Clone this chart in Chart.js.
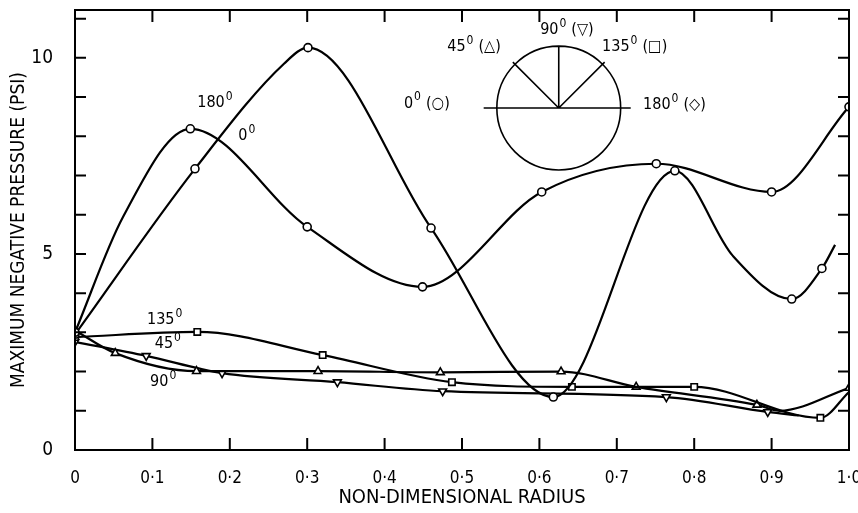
<!DOCTYPE html>
<html>
<head>
<meta charset="utf-8">
<script src="https://cdn.jsdelivr.net/npm/chart.js@4/dist/chart.umd.min.js"></script>
<style>
  body { margin: 0; background: #fff; }
  canvas { display: block; }
</style>
</head>
<body>
<canvas id="mycanvas" width="858" height="513"></canvas>
<script>
// values: radius (x) and max negative pressure in psi (y)
// the m* arrays say which points carry a marker (0 = point read along the curve only)
var xLabels = ['0', '0·1', '0·2', '0·3', '0·4', '0·5', '0·6', '0·7', '0·8', '0·9', '1·0'];
var yLabelValues = [0, 5, 10];

var r180 = [0, 0.062, 0.149, 0.30, 0.449, 0.603, 0.751, 0.90, 1.0];
var p180 = [3.0, 5.94, 8.19, 5.69, 4.16, 6.58, 7.30, 6.58, 8.75];
var m180 = [1, 0, 1, 1, 1, 1, 1, 1, 1];

var r0 = [0, 0.155, 0.27, 0.301, 0.46, 0.618, 0.775, 0.85, 0.926, 0.965, 0.982];
var p0 = [2.95, 7.17, 9.85, 10.26, 5.66, 1.35, 7.12, 4.95, 3.85, 4.63, 5.23];
var m0 = [1, 1, 0, 1, 1, 1, 1, 0, 1, 1, 0];

var r135 = [0, 0.158, 0.32, 0.487, 0.642, 0.80, 0.963, 1.0];
var p135 = [2.88, 3.01, 2.42, 1.73, 1.61, 1.61, 0.82, 1.48];
var m135 = [1, 1, 1, 1, 1, 1, 1, 0];

var r45 = [0, 0.052, 0.157, 0.314, 0.472, 0.628, 0.725, 0.881, 0.91, 1.0];
var p45 = [3.05, 2.47, 2.01, 2.01, 1.98, 2.0, 1.61, 1.15, 1.0, 1.58];
var m45 = [1, 1, 1, 1, 1, 1, 1, 1, 0, 1];

var r90 = [0, 0.092, 0.19, 0.339, 0.475, 0.764, 0.895, 0.935];
var p90 = [2.76, 2.40, 1.96, 1.73, 1.50, 1.35, 0.97, 0.88];
var m90 = [1, 1, 1, 1, 1, 1, 1, 0];

var FONT = "'Liberation Sans Narrow', 'DejaVu Sans Condensed', 'Arial Narrow', sans-serif";

function pts(xs, ys) {
	var out = [];
	for (var i = 0; i < xs.length; i++) out.push({x: xs[i], y: ys[i]});
	return out;
}
function radii(flags, r) {
	return flags.map(function(f){ return f ? r : 0; });
}
function series(label, xs, ys, flags, style, r, rot) {
	return {
		label: label,
		data: pts(xs, ys),
		borderColor: '#000',
		borderWidth: 2.2,
		backgroundColor: '#fff',
		pointBackgroundColor: '#fff',
		pointBorderColor: '#000',
		pointBorderWidth: 1.6,
		pointStyle: style,
		pointRotation: rot || 0,
		pointRadius: radii(flags, r),
		cubicInterpolationMode: 'monotone',
		fill: false
	};
}

// text with a raised small "0" used as the degree sign
function degText(ctx, x, y, base, rest, size) {
	ctx.font = size + 'px ' + FONT;
	ctx.textBaseline = 'middle';
	ctx.textAlign = 'left';
	ctx.fillText(base, x, y);
	var w = ctx.measureText(base).width;
	ctx.font = Math.round(size * 0.75) + 'px ' + FONT;
	ctx.fillText('0', x + w + 1, y - size * 0.4);
	var w2 = ctx.measureText('0').width;
	if (rest) {
		ctx.font = size + 'px ' + FONT;
		ctx.fillText(rest, x + w + w2 + 6, y);
	}
}

var curveLabels = [
	{t: '180', x: 0.158, y: 8.85},
	{t: '0', x: 0.211, y: 8.01},
	{t: '135', x: 0.093, y: 3.32},
	{t: '45', x: 0.103, y: 2.70},
	{t: '90', x: 0.097, y: 1.73}
];
var insetLabels = [
	{t: '90', r: '(▽)', x: 0.601, y: 10.71},
	{t: '45', r: '(△)', x: 0.481, y: 10.28},
	{t: '135', r: '(□)', x: 0.681, y: 10.28},
	{t: '0', r: '(○)', x: 0.425, y: 8.83},
	{t: '180', r: '(◇)', x: 0.734, y: 8.80}
];

var frameAndText = {
	id: 'frameAndText',
	afterDraw: function(chart) {
		var ctx = chart.ctx, a = chart.chartArea;
		var xs = chart.scales.x, ys = chart.scales.y;
		ctx.save();
		ctx.strokeStyle = '#000';
		ctx.fillStyle = '#000';
		ctx.lineWidth = 2;
		ctx.strokeRect(a.left, a.top, a.right - a.left, a.bottom - a.top);
		// inward ticks on all four sides
		ctx.beginPath();
		xs.ticks.forEach(function(t){
			if (t.value <= 0 || t.value >= 1) return;
			var px = xs.getPixelForValue(t.value);
			ctx.moveTo(px, a.bottom); ctx.lineTo(px, a.bottom - 12);
			ctx.moveTo(px, a.top); ctx.lineTo(px, a.top + 12);
		});
		ys.ticks.forEach(function(t){
			if (t.value <= 0) return;
			var py = ys.getPixelForValue(t.value);
			ctx.moveTo(a.left, py); ctx.lineTo(a.left + 11, py);
			ctx.moveTo(a.right, py); ctx.lineTo(a.right - 11, py);
		});
		ctx.stroke();

		curveLabels.forEach(function(l){
			degText(ctx, xs.getPixelForValue(l.x), ys.getPixelForValue(l.y), l.t, null, 16);
		});

		// little direction diagram
		var cx = xs.getPixelForValue(0.625), cy = ys.getPixelForValue(8.72);
		var rad = xs.getPixelForValue(0.08) - xs.getPixelForValue(0);
		ctx.lineWidth = 1.6;
		ctx.beginPath();
		ctx.arc(cx, cy, rad, 0, Math.PI * 2);
		ctx.moveTo(xs.getPixelForValue(0.528), cy);
		ctx.lineTo(xs.getPixelForValue(0.718), cy);
		ctx.moveTo(cx, cy); ctx.lineTo(cx, cy - rad);
		var d = (rad + 3) * Math.SQRT1_2;
		ctx.moveTo(cx, cy); ctx.lineTo(cx - d, cy - d);
		ctx.moveTo(cx, cy); ctx.lineTo(cx + d, cy - d);
		ctx.stroke();
		insetLabels.forEach(function(l){
			degText(ctx, xs.getPixelForValue(l.x), ys.getPixelForValue(l.y), l.t, l.r, 16);
		});
		ctx.restore();
	}
};

var ctx = document.getElementById('mycanvas');
var mychart = new Chart(ctx, {
	type: 'line',
	data: {
		datasets: [
			series('180°', r180, p180, m180, 'circle', 4),
			series('0°', r0, p0, m0, 'circle', 4),
			series('135°', r135, p135, m135, 'rect', 4.5),
			series('45°', r45, p45, m45, 'triangle', 4.5),
			series('90°', r90, p90, m90, 'triangle', 4.5, 180)
		]
	},
	options: {
		responsive: false,
		devicePixelRatio: 1,
		animation: false,
		events: [],
		layout: { padding: { top: 10, right: 9, left: 0, bottom: 0 } },
		plugins: { legend: { display: false }, tooltip: { enabled: false } },
		scales: {
			x: {
				type: 'linear',
				min: 0,
				max: 1,
				grid: { display: false },
				border: { display: false },
				ticks: {
					stepSize: 0.1,
					autoSkip: false,
					maxRotation: 0,
					padding: 10,
					color: '#000',
					font: { family: FONT, size: 17 },
					callback: function(v){ return xLabels[Math.round(v * 10)]; }
				},
				title: {
					display: true,
					text: 'NON-DIMENSIONAL RADIUS',
					color: '#000',
					font: { family: FONT, size: 20 },
					padding: { top: 0, bottom: 3 }
				},
				afterFit: function(s){ s.height = 63; s.paddingLeft = 0; s.paddingRight = 0; }
			},
			y: {
				min: 0,
				max: 11.22,
				grid: { display: false },
				border: { display: false },
				ticks: {
					stepSize: 1,
					includeBounds: false,
					padding: 14,
					color: '#000',
					font: { family: FONT, size: 19 },
					callback: function(v){ return yLabelValues.indexOf(v) >= 0 ? String(v) : ''; }
				},
				title: {
					display: true,
					text: 'MAXIMUM NEGATIVE PRESSURE (PSI)',
					color: '#000',
					font: { family: FONT, size: 19 },
					padding: { top: 8, bottom: 0 }
				},
				afterFit: function(s){ s.width = 75; s.paddingTop = 0; s.paddingBottom = 0; }
			}
		}
	},
	plugins: [frameAndText]
});
</script>
</body>
</html>
